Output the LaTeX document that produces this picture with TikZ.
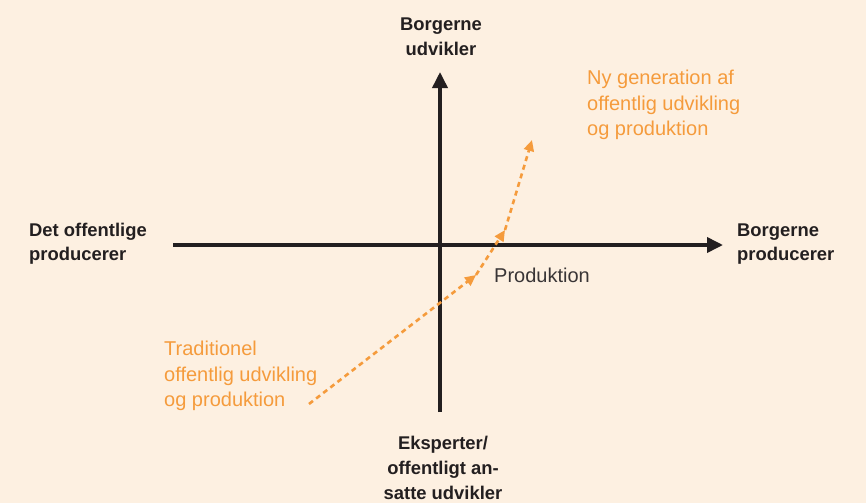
\documentclass[tikz,border=0pt]{standalone}
\usepackage{fontspec}
\setmainfont{Liberation Sans}
\usetikzlibrary{arrows.meta}
\definecolor{bgcream}{HTML}{FDF0E1}
\definecolor{axisdark}{HTML}{231F20}
\definecolor{orng}{HTML}{F59B3C}
\tikzset{
  axis/.style={line width=3.6pt, draw=axisdark, -{Triangle[length=16pt,width=15pt]}},
  boldlbl/.style={font=\fontsize{18.4}{25}\selectfont\bfseries, text=axisdark, inner sep=0pt, align=center},
  boldlblL/.style={font=\fontsize{18.4}{24}\selectfont\bfseries, text=axisdark, inner sep=0pt, align=left},
  orlbl/.style={font=\fontsize{20}{25.5}\selectfont, text=orng, inner sep=0pt, align=left},
  darklbl/.style={font=\fontsize{20}{25}\selectfont, text=axisdark!90, inner sep=0pt},
  orpath/.style={draw=orng, line width=2.6pt, dash pattern=on 5pt off 4pt, -{Triangle[length=11pt,width=10pt]}},
}
\begin{document}
\begin{tikzpicture}[x=1pt,y=-1pt]
\fill[bgcream] (0,0) rectangle (866,503);
\useasboundingbox (0,0) rectangle (866,503);
% axes
\coordinate (vbot) at (440,412);
\coordinate (vtop) at (440,72);
\coordinate (hleft) at (173,245);
\coordinate (hright) at (723,245);
\draw[axis] (vbot) -- (vtop);
\draw[axis] (hleft) -- (hright);
% labels
\node[boldlbl] (top) at (441,37) {Borgerne\\udvikler};
\node[boldlblL, anchor=west] (left) at (29,244) {Det offentlige\\producerer};
\node[boldlblL, anchor=west] (right) at (737,244) {Borgerne\\producerer};
\node[boldlbl] (bottom) at (443,468) {Eksperter/\\offentligt an-\\satte udvikler};
\node[darklbl, anchor=west] (prod) at (494,275) {Produktion};
\node[orlbl, anchor=west] (nygen) at (587,105) {Ny generation af\\offentlig udvikling\\og produktion};
\node[orlbl, anchor=west] (trad) at (164,376) {Traditionel\\offentlig udvikling\\og produktion};
% orange path
\coordinate (p0) at (309,404);
\coordinate (p1) at (476,275);
\coordinate (p2) at (505,230);
\coordinate (p3) at (532,140);
\draw[orpath] (p0) -- (p1);
\draw[orpath] (p1) -- (p2);
\draw[orpath] (p2) -- (p3);
\end{tikzpicture}
\end{document}
